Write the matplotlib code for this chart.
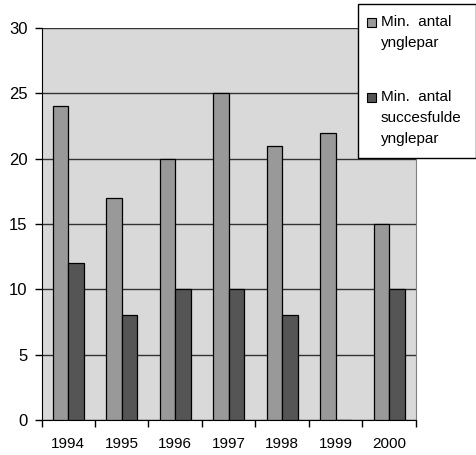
import numpy as np
import matplotlib.pyplot as plt
from matplotlib.patches import Rectangle

plt.rcParams['font.family'] = ['Liberation Sans', 'DejaVu Sans']

# Data
years = ["1994", "1995", "1996", "1997", "1998", "1999", "2000"]
ynglepar = [24, 17, 20, 25, 21, 22, 15]
succes = [12, 8, 10, 10, 8, 0, 10]
labels = ["Min. antal\nynglepar", "Min. antal\nsuccesfulde\nynglepar"]

LIGHT = "#999999"
DARK = "#555555"
BG = "#d9d9d9"

W, H = 477, 455
fig = plt.figure(figsize=(W / 100, H / 100), dpi=100)
ax = fig.add_axes([41.5 / W, 1 - 420 / H, (416 - 41.5) / W, (420 - 28) / H])
ax.set_facecolor(BG)

x = np.arange(len(years))
bw = 0.286
ax.bar(x - bw / 2, ynglepar, bw, color=LIGHT, edgecolor="black", linewidth=0.9, zorder=3)
ax.bar(x + bw / 2, succes, bw, color=DARK, edgecolor="black", linewidth=0.9, zorder=3)

ax.set_xlim(-0.5, len(years) - 0.5)
ax.set_ylim(0, 30)
ax.set_yticks(range(0, 31, 5))
ax.yaxis.grid(True, color="#333333", linewidth=1.0, zorder=1)
ax.set_axisbelow(True)

ax.set_xticks(x)
ax.set_xticklabels(years)
ax.set_xticks(np.arange(-0.5, len(years)), minor=True)
ax.tick_params(axis="x", which="major", length=0, pad=12, labelsize=11)
ax.tick_params(axis="x", which="minor", length=5, width=1, direction="out")
ax.tick_params(axis="y", length=5, width=1, direction="out", pad=5, labelsize=12)

ax.spines["top"].set_visible(False)
ax.spines["right"].set_color("#808080")
ax.spines["left"].set_color("black")
ax.spines["bottom"].set_color("black")

# Legend box (Excel style, handle at first text line)
def fx(px):
    return px / W

def fy(py):
    return 1 - py / H

fig.patches.append(Rectangle((fx(358), fy(158)), fx(476) - fx(358), fy(4) - fy(158),
                             transform=fig.transFigure, facecolor="white",
                             edgecolor="black", linewidth=1, zorder=5))
for col, lab, top in [(LIGHT, labels[0], 18), (DARK, labels[1], 93)]:
    fig.patches.append(Rectangle((fx(367), fy(top + 9)), fx(376) - fx(367), fy(top) - fy(top + 9),
                                 transform=fig.transFigure, facecolor=col,
                                 edgecolor="black", linewidth=0.8, zorder=6))
    fig.text(fx(381), fy(top - 3), lab.replace(". ", ".  "), fontsize=11, va="top", ha="left",
             linespacing=1.65, zorder=7)

fig.savefig("out.png", dpi=100)
